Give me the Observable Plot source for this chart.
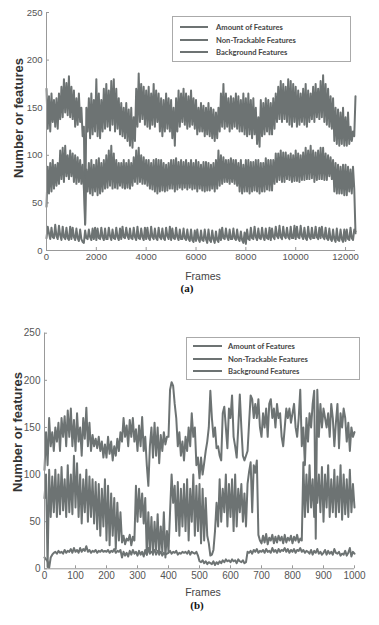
<!DOCTYPE html>
<html><head><meta charset="utf-8">
<script src="https://cdn.jsdelivr.net/npm/d3@7"></script>
<script src="https://cdn.jsdelivr.net/npm/@observablehq/plot@0.6"></script>
<style>
body{margin:0;background:#fff;}
#wrap{position:relative;width:379px;height:625px;overflow:hidden;font-family:"Liberation Sans",Arial,sans-serif;}
.panel{position:absolute;left:0;}
.ylab{position:absolute;font-weight:bold;font-size:13px;color:#333;transform:translate(-50%,-50%) rotate(-90deg);white-space:nowrap;}
.xlab{position:absolute;font-size:10.5px;color:#444;transform:translate(-50%,-50%);white-space:nowrap;line-height:1;}
.cap{position:absolute;font-family:"Liberation Serif","DejaVu Serif",serif;font-weight:bold;font-size:11px;color:#111;transform:translate(-50%,-50%);line-height:1;}
.legend{position:absolute;border:1px solid #aaa;background:#fff;box-sizing:border-box;}
.lrow{position:absolute;left:0;right:0;height:0;}
.lsw{position:absolute;height:2px;background:#6d7373;top:-1px;}
.ltx{position:absolute;font-family:Lato,"Open Sans",sans-serif;font-weight:700;font-size:7.6px;color:#444;transform:translateY(-50%);white-space:nowrap;}
</style>
</head><body>
<div id="wrap"></div>
<script>
const seriesNames = ["Amount of Features", "Non-Trackable Features", "Background Features"];
const xTicksA = [0, 2000, 4000, 6000, 8000, 10000, 12000];
const xTicksB = [0, 100, 200, 300, 400, 500, 600, 700, 800, 900, 1000];
const yTicks = [0, 50, 100, 150, 200, 250];

// Panel (a): one value every 50 frames, 0..12400
const stepA = 50;
const amountA = [
170,128,162,125,165,135,158,130,160,128,165,138,172,140,180,145,176,142,183,140,
172,138,168,130,160,132,165,135,150,120,130,28,150,125,160,118,165,122,158,125,
180,120,165,118,158,125,170,128,175,130,168,126,178,132,180,125,170,128,160,122,
155,120,150,118,155,115,148,110,150,108,140,115,170,130,186,135,175,138,172,132,
168,130,172,128,165,132,175,130,168,135,165,125,160,120,158,125,165,128,160,125,
158,118,150,110,160,125,168,130,165,135,170,132,165,128,162,130,168,132,160,128,
158,122,150,125,155,125,152,120,150,122,155,120,150,118,148,115,145,118,150,125,
165,130,175,128,165,130,160,125,162,128,160,130,165,128,162,125,158,125,165,122,
160,120,165,122,158,118,160,122,150,112,140,109,158,120,155,122,160,125,158,122,
155,122,160,128,165,135,172,138,178,135,175,138,172,135,180,132,178,130,175,135,
172,130,168,132,165,135,170,132,175,130,168,135,165,138,172,135,175,140,170,138,
178,140,184,135,175,132,170,130,162,128,160,115,150,112,148,110,145,112,150,110,
140,110,145,112,130,115,125,120,162
];
const nonTrackA = [
46,88,60,92,62,95,65,90,68,92,70,105,75,108,72,110,78,100,75,105,
78,102,72,100,70,98,72,95,70,90,65,27,85,62,92,60,95,58,90,62,
95,58,97,60,92,62,95,65,100,66,105,68,110,65,102,66,95,65,92,68,
92,66,95,65,92,66,95,65,92,68,98,72,105,70,108,72,100,70,98,70,
95,68,95,65,92,64,95,62,96,60,95,62,95,63,92,62,90,63,92,65,
95,65,95,62,97,64,93,66,95,64,93,66,95,64,92,66,95,64,92,65,
95,62,93,65,90,63,93,62,93,63,92,63,90,65,92,62,95,65,105,68,
100,70,98,72,95,72,95,70,97,72,95,70,95,68,92,62,95,60,90,62,
95,62,95,60,93,62,93,63,95,62,95,60,92,62,92,62,97,64,95,63,
95,63,95,70,102,72,102,74,105,72,103,72,103,75,100,74,102,72,100,73,
105,73,102,72,100,74,103,74,108,75,105,75,110,76,105,72,103,74,105,75,
108,75,108,74,102,74,100,78,98,75,95,62,92,60,90,60,88,60,90,58,
90,58,88,62,85,60,88,65,18
];
const backgroundA = [
13,25,18,12,24,14,13,27,15,12,26,16,11,25,14,12,24,13,11,25,
12,24,14,11,23,13,10,22,12,9,8,21,13,12,22,14,11,23,12,24,
11,23,13,12,24,14,11,23,12,12,24,15,11,22,13,12,24,14,11,23,
12,25,14,13,24,15,12,23,13,12,24,14,11,25,13,12,23,14,11,24,
12,24,13,11,25,14,12,23,13,11,24,14,12,23,13,11,24,15,12,25,
11,23,13,12,24,14,11,22,12,12,23,13,11,22,12,10,22,11,9,21,
10,22,12,9,21,11,10,22,12,8,22,11,9,21,12,8,20,11,9,22,
11,24,13,12,23,14,11,22,12,12,23,13,11,22,12,10,20,11,8,19,
7,22,12,11,24,13,12,25,14,11,23,13,12,24,14,11,23,13,12,24,
11,23,14,12,25,15,13,26,14,12,25,15,13,24,14,12,25,13,13,26,
12,25,14,13,26,15,12,24,13,11,25,14,12,24,13,13,25,14,12,24,
13,25,14,12,24,13,11,23,12,10,22,12,9,23,11,10,22,12,9,22,
10,22,12,11,24,13,11,22,20
];

// Panel (b): one value every 5 frames, 0..1000
const stepB = 5;
const amountB = [
105,145,110,160,130,145,125,150,135,155,
125,160,140,162,130,168,140,170,130,158,
125,165,135,150,120,160,138,171,130,155,
125,142,130,138,128,140,125,135,118,132,
118,140,122,135,115,130,120,138,125,145,
135,160,140,152,130,158,140,160,135,148,
125,152,130,161,125,140,110,88,130,150,
118,155,120,150,112,142,125,145,132,140,
140,190,198,194,175,160,130,145,120,135,
115,140,125,150,130,165,140,150,110,118,
96,118,100,112,125,135,150,189,160,140,
150,128,130,120,115,165,172,150,128,170,
160,184,140,130,118,150,185,150,120,115,
120,125,155,184,180,160,175,160,180,150,
140,165,150,170,140,175,180,160,170,150,
175,160,165,140,130,150,170,160,170,155,
165,175,150,140,160,190,130,150,110,160,
135,165,150,175,189,32,190,140,175,150,
170,160,150,165,140,175,160,130,155,175,
128,165,150,170,160,135,155,125,150,140,
145
];
const nonTrackB = [
75,100,2,105,55,98,60,105,55,100,
58,108,62,95,55,110,60,100,58,120,
65,112,55,100,48,95,60,105,50,98,
55,95,48,92,42,90,35,85,45,95,
30,88,25,80,35,75,21,70,30,60,
28,35,26,32,30,36,25,34,30,88,
50,85,55,80,48,75,15,60,18,55,
15,50,20,58,15,45,18,60,12,40,
18,60,100,70,88,40,92,35,85,45,
90,40,95,30,85,50,100,35,88,40,
90,27,85,30,75,35,27,14,15,20,
40,70,45,95,50,85,60,100,45,90,
55,95,40,100,45,85,60,90,50,80,
45,90,103,113,60,110,102,115,36,30,
27,35,28,37,26,33,30,36,27,34,
28,35,30,34,27,36,28,33,30,35,
27,34,30,36,28,32,30,113,55,100,
60,110,65,95,55,105,70,100,60,108,
50,100,65,110,55,95,60,105,55,98,
60,110,52,100,58,95,55,105,60,90,
65
];
const backgroundB = [
12,10,8,1,12,15,17,18,16,19,
17,18,16,20,17,19,18,21,17,22,
18,20,17,22,18,21,19,24,18,20,
17,19,18,20,17,19,18,20,18,19,
18,20,17,19,18,21,17,19,18,20,
12,18,14,17,13,19,15,20,16,18,
14,19,15,18,13,20,15,22,16,18,
17,20,15,19,16,18,14,17,15,16,
17,19,16,18,17,19,15,17,16,18,
17,18,16,19,15,18,17,16,18,14,
8,7,9,6,8,5,7,6,5,8,
4,7,5,8,6,9,7,10,8,9,
7,10,8,9,6,10,8,7,9,6,
7,18,17,19,16,20,18,21,17,19,
18,20,17,21,18,19,17,22,18,20,
17,21,18,20,19,22,18,21,17,20,
18,21,17,20,19,22,18,20,17,19,
18,16,20,15,19,17,21,16,18,15,
17,20,15,19,16,18,15,21,17,16,
18,14,16,15,19,14,17,22,13,18,
16
];

const LINE = "#6d7373";
const AXIS = "#999";
const fmt = d3.format("d");

function toRows(arrs, step) {
  const rows = [];
  arrs.forEach((arr, s) => arr.forEach((v, i) => rows.push({series: seriesNames[s], frame: i * step, value: v})));
  return rows;
}

function makePlot(o) {
  const rows = toRows(o.series, o.step);
  const pxX = (o.xmax) / (o.width - o.ml - o.mr);
  const pxY = 250 / (o.height - o.mt - o.mb);
  return Plot.plot({
    width: o.width, height: o.height,
    marginLeft: o.ml, marginRight: o.mr, marginTop: o.mt, marginBottom: o.mb,
    style: {fontFamily: "'Liberation Sans', Arial, sans-serif", fontSize: o.fs + "px", color: "#555", background: "transparent", overflow: "visible"},
    x: {domain: [0, o.xmax]},
    y: {domain: [0, 250]},
    marks: [
      Plot.axisX(o.xticks, {tickSize: 0, tickPadding: 3, label: null, tickFormat: fmt}),
      Plot.axisY(yTicks, {tickSize: 0, tickPadding: 4, label: null, tickFormat: fmt}),
      Plot.ruleX(o.xticks, {y1: 0, y2: 3 * pxY, stroke: AXIS}),
      Plot.ruleY(yTicks, {x1: 0, x2: 3 * pxX, stroke: AXIS}),
      Plot.lineY(rows, {x: "frame", y: "value", z: "series", stroke: LINE, strokeWidth: o.sw, curve: "linear"}),
      Plot.ruleX([0], {stroke: AXIS}),
      Plot.ruleY([0], {stroke: AXIS})
    ]
  });
}

const wrap = document.getElementById("wrap");
function add(el, cls, css, text) {
  const d = document.createElement("div");
  if (cls) d.className = cls;
  Object.assign(d.style, css);
  if (text != null) d.textContent = text;
  el.appendChild(d);
  return d;
}
function legend(left, top, w, h, rowsY, swL, swR, txL) {
  const lg = add(wrap, "legend", {left: left + "px", top: top + "px", width: w + "px", height: h + "px"});
  seriesNames.forEach((name, i) => {
    const r = add(lg, "lrow", {top: rowsY[i] + "px"});
    add(r, "lsw", {left: swL + "px", width: (swR - swL) + "px"});
    add(r, "ltx", {left: txL + "px"}, name);
  });
}

// Panel (a)
const pa = add(wrap, "panel", {top: "0px"});
pa.appendChild(makePlot({series: [amountA, nonTrackA, backgroundA], step: stepA, xmax: 12400, xticks: xTicksA,
  width: 379, height: 270, ml: 46, mr: 24, mt: 12, mb: 20, sw: 2, fs: 9.5}));
add(wrap, "ylab", {left: "18px", top: "118px"}, "Number or features");
add(wrap, "xlab", {left: "203px", top: "276px"}, "Frames");
add(wrap, "cap", {left: "187px", top: "288px"}, "(a)");
legend(172, 16, 179, 46, [10, 23, 35], 7, 35, 43);

// Panel (b)
const pb = add(wrap, "panel", {top: "320px"});
pb.appendChild(makePlot({series: [amountB, nonTrackB, backgroundB], step: stepB, xmax: 1000, xticks: xTicksB,
  width: 379, height: 268, ml: 44, mr: 25, mt: 12.7, mb: 19.7, sw: 2, fs: 10}));
add(wrap, "ylab", {left: "17px", top: "432px"}, "Number or features");
add(wrap, "xlab", {left: "203px", top: "592px"}, "Frames");
add(wrap, "cap", {left: "197px", top: "605px"}, "(b)");
legend(186, 337, 174, 43, [8, 21, 33], 6, 35, 41);
</script>
</body></html>
